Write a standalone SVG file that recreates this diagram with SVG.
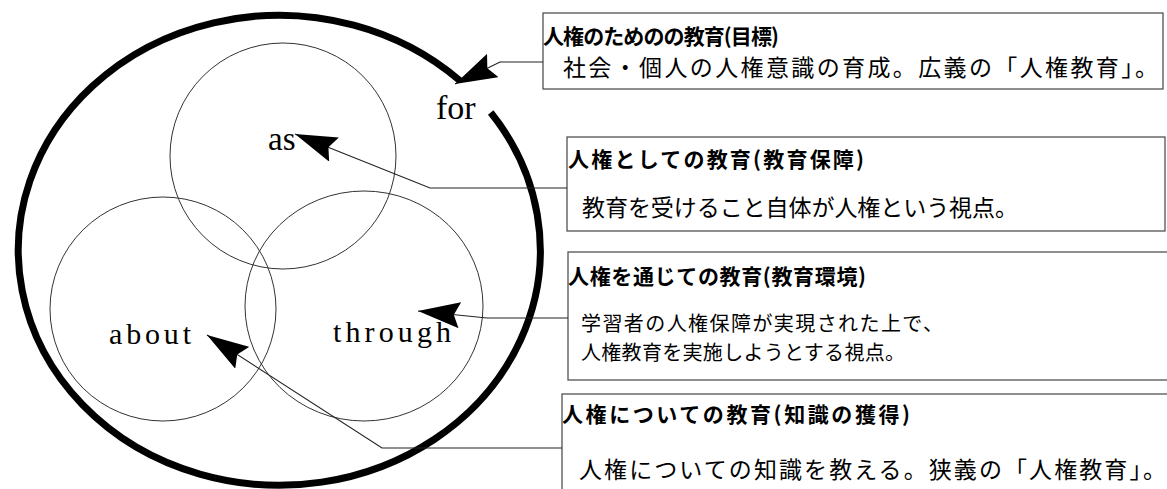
<svg xmlns="http://www.w3.org/2000/svg" width="1167" height="489" viewBox="0 0 1167 489">
<style>
  .bg { fill: #ffffff; }
  .cycle { fill: none; stroke: #000; stroke-width: 7; stroke-linecap: butt; }
  .ring { fill: none; stroke: #333; stroke-width: 1; }
  .box { fill: #ffffff; stroke: #444; stroke-width: 1.2; }
  .conn { fill: none; stroke: #222; stroke-width: 1.2; }
  .lbl { font-family: "Liberation Serif", "Times New Roman", serif; fill: #000; }
  .ttl { font-family: "Noto Sans CJK JP", "Noto Sans CJK SC", sans-serif; font-weight: bold; font-size: 21px; fill: #000; }
  .sub { font-family: "Noto Sans CJK JP", "Noto Sans CJK SC", sans-serif; font-size: 23px; fill: #000; }
  .sub-s { font-family: "Noto Sans CJK JP", "Noto Sans CJK SC", sans-serif; font-size: 20px; fill: #000; }
</style>
<defs>
  <marker id="arrow" markerUnits="userSpaceOnUse" markerWidth="42" markerHeight="26" viewBox="0 0 42 26" refX="42" refY="13" orient="auto">
    <path d="M0,0 L42,13 L0,26 L6,13 Z" fill="#000"/>
  </marker>
</defs>
<rect class="bg" x="0" y="0" width="1167" height="489"/>

<g id="cycle">
  <path class="cycle" d="M 490.7 112.5 A 261 235 0 1 1 459.6 80.4"/>
</g>

<g id="circle-as">
  <circle class="ring" cx="283" cy="156" r="113"/>
  <text class="lbl" x="268" y="150" font-size="33">as</text>
</g>
<g id="circle-about">
  <ellipse class="ring" cx="163" cy="309" rx="113" ry="112"/>
  <text class="lbl" x="109" y="344" font-size="30" textLength="82" lengthAdjust="spacing">about</text>
</g>
<g id="circle-through">
  <ellipse class="ring" cx="364" cy="306" rx="119" ry="115"/>
  <text class="lbl" x="333" y="342" font-size="30" textLength="118" lengthAdjust="spacing">through</text>
</g>
<g id="label-for">
  <text class="lbl" x="436" y="119" font-size="34">for</text>
</g>

<g id="box-for">
  <rect class="box" x="543" y="13" width="620" height="76"/>
  <text class="ttl" x="543" y="44" textLength="236" lengthAdjust="spacing">人権のためのの教育(目標)</text>
  <text class="sub" x="563" y="76" textLength="595" lengthAdjust="spacing">社会・個人の人権意識の育成。広義の「人権教育」。</text>
</g>
<g id="box-as">
  <rect class="box" x="567" y="137" width="598" height="94"/>
  <text class="ttl" x="568" y="167" textLength="296" lengthAdjust="spacing">人権としての教育(教育保障)</text>
  <text class="sub" x="582" y="216" textLength="436" lengthAdjust="spacing">教育を受けること自体が人権という視点。</text>
</g>
<g id="box-through">
  <rect class="box" x="568" y="252" width="610" height="128"/>
  <text class="ttl" x="568" y="284" textLength="298" lengthAdjust="spacing">人権を通じての教育(教育環境)</text>
  <text class="sub-s" x="581" y="331" textLength="362" lengthAdjust="spacing">学習者の人権保障が実現された上で、</text>
  <text class="sub-s" x="581" y="360" textLength="324" lengthAdjust="spacing">人権教育を実施しようとする視点。</text>
</g>
<g id="box-about">
  <rect class="box" x="562" y="394" width="620" height="110"/>
  <text class="ttl" x="562" y="422" textLength="348" lengthAdjust="spacing">人権についての教育(知識の獲得)</text>
  <text class="sub" x="579" y="478" textLength="587" lengthAdjust="spacing">人権についての知識を教える。狭義の「人権教育」。</text>
</g>

<g id="connectors">
  <path class="conn" d="M 543 62 L 500 62 L 455 84" marker-end="url(#arrow)"/>
  <path class="conn" d="M 567 188 L 430 188 L 295 134" marker-end="url(#arrow)"/>
  <path class="conn" d="M 568 318 L 487 318 L 418 311" marker-end="url(#arrow)"/>
  <path class="conn" d="M 562 448 L 382 448 L 207 335" marker-end="url(#arrow)"/>
</g>
</svg>
